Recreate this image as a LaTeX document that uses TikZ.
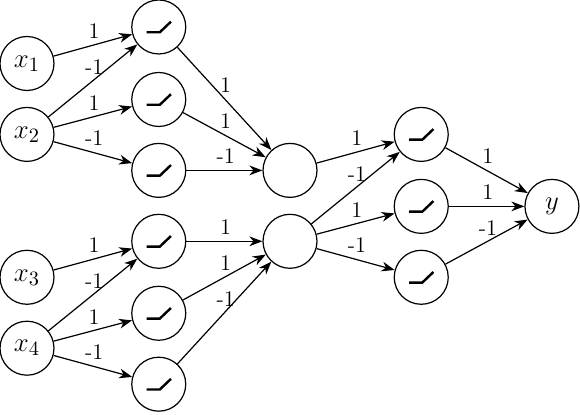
\documentclass[tikz,border=0pt]{standalone}
\usepackage{amsmath}
\usepackage{tikz}
\usetikzlibrary{arrows.meta}

\begin{document}
\begin{tikzpicture}[
    neuron/.style={
        draw,
        circle,
        line width=0.65pt,
        minimum size=1.02cm,
        inner sep=0pt,
        font=\fontsize{15.5}{18}\selectfont
    },
    relu/.style={
        neuron,
        path picture={
            \draw[line width=1.3pt]
                (path picture bounding box.center) ++(-0.23,-0.1) -- ++(0.25,0) -- ++(0.21,0.2);
        }
    },
    arrow/.style={
        -{Stealth[length=7pt,inset=2.2pt]},
        line width=0.65pt
    },
    weight/.style={
        above,
        inner sep=3.2pt,
        xshift=0.7pt,
        font=\large
    }
]
\useasboundingbox (0,0) rectangle (10.96,7.83);

% Inputs
\node[neuron] (x1) at (0.51,6.63) {$x_1$};
\node[neuron] (x2) at (0.51,5.29) {$x_2$};
\node[neuron] (x3) at (0.51,2.59) {$x_3$};
\node[neuron] (x4) at (0.51,1.25) {$x_4$};

% First hidden layer
\node[relu] (a1) at (3.0,7.32) {};
\node[relu] (a2) at (3.0,5.95) {};
\node[relu] (a3) at (3.0,4.61) {};
\node[relu] (a4) at (3.0,3.27) {};
\node[relu] (a5) at (3.0,1.91) {};
\node[relu] (a6) at (3.0,0.57) {};

% Sums
\node[neuron] (s1) at (5.48,4.61) {};
\node[neuron] (s2) at (5.48,3.27) {};

% Second hidden layer
\node[relu] (b1) at (7.96,5.29) {};
\node[relu] (b2) at (7.96,3.93) {};
\node[relu] (b3) at (7.96,2.59) {};

% Output
\node[neuron] (y) at (10.43,3.93) {$y$};

% Weighted edges
\foreach \from/\to/\val in {
    x1/a1/1, x2/a1/-1, x2/a2/1, x2/a3/-1,
    x3/a4/1, x4/a4/-1, x4/a5/1, x4/a6/-1,
    a1/s1/1, a2/s1/1, a3/s1/-1,
    a4/s2/1, a5/s2/1, a6/s2/-1,
    s1/b1/1, s2/b1/-1, s2/b2/1, s2/b3/-1,
    b1/y/1, b2/y/1, b3/y/-1}
    \draw[arrow] (\from) -- node[weight] {\val} (\to);

\end{tikzpicture}
\end{document}
